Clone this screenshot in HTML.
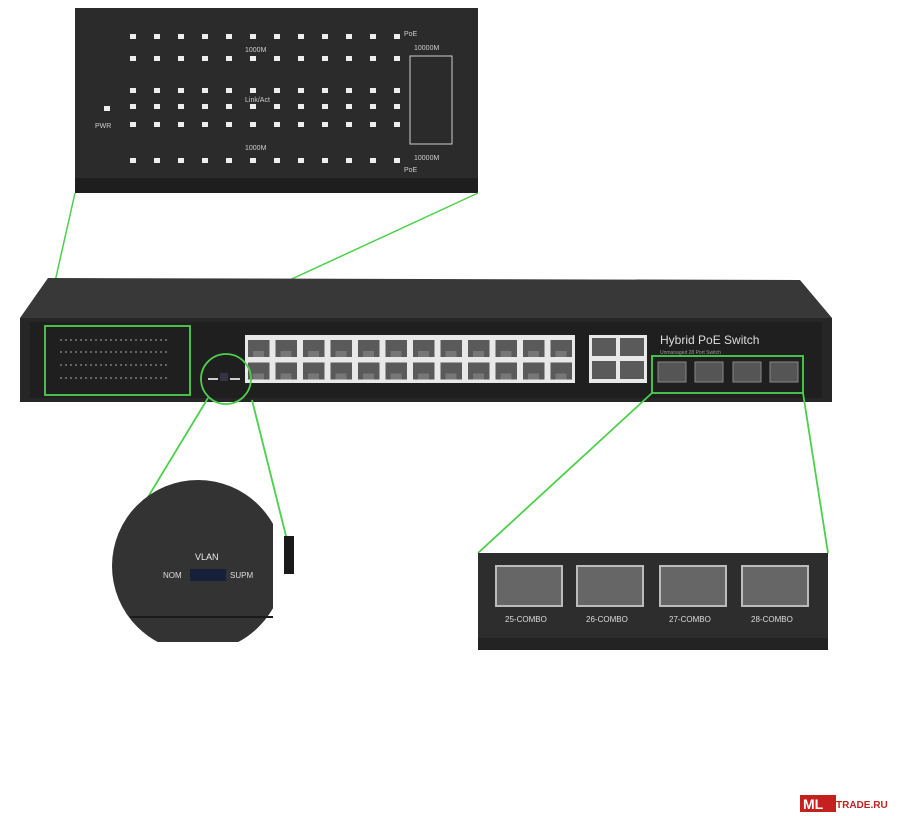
<!DOCTYPE html>
<html><head><style>body{margin:0;background:#fff}svg{display:block}</style></head><body>
<svg width="904" height="816" viewBox="0 0 904 816" xmlns="http://www.w3.org/2000/svg" font-family="Liberation Sans, sans-serif">
<defs>
<clipPath id="cc"><rect x="110" y="480" width="163" height="162"/></clipPath>
<pattern id="port" x="245" y="337" width="27.5" height="22.5" patternUnits="userSpaceOnUse">
<rect x="3" y="3" width="21.5" height="17" fill="#5a5a5a"/><rect x="8" y="14" width="11" height="6" fill="#777"/>
</pattern>
</defs>
<!-- top LED panel -->
<rect x="75" y="8" width="403" height="185" fill="#2b2b2b"/>
<rect x="75" y="178" width="403" height="15" fill="#1e1e1e"/>
<g fill="#eee">
<g id="r1">
<rect x="130" y="34" width="6" height="5"/><rect x="154" y="34" width="6" height="5"/><rect x="178" y="34" width="6" height="5"/><rect x="202" y="34" width="6" height="5"/><rect x="226" y="34" width="6" height="5"/><rect x="250" y="34" width="6" height="5"/><rect x="274" y="34" width="6" height="5"/><rect x="298" y="34" width="6" height="5"/><rect x="322" y="34" width="6" height="5"/><rect x="346" y="34" width="6" height="5"/><rect x="370" y="34" width="6" height="5"/><rect x="394" y="34" width="6" height="5"/>
</g>
<use href="#r1" y="22"/><use href="#r1" y="54"/><use href="#r1" y="70"/><use href="#r1" y="88"/><use href="#r1" y="124"/>
<rect x="104" y="106" width="6" height="5"/>
</g>
<g fill="#ccc" font-size="7">
<text x="245" y="52">1000M</text><text x="245" y="150">1000M</text><text x="245" y="102">Link/Act</text>
<text x="95" y="128">PWR</text><text x="404" y="36">PoE</text><text x="404" y="172">PoE</text>
<text x="414" y="50">10000M</text><text x="414" y="160">10000M</text>
</g>
<rect x="410" y="56" width="42" height="88" fill="none" stroke="#ccc" stroke-width="1"/>
<!-- green connectors top -->
<g stroke="#4cd04c" stroke-width="1.5" fill="none">
<line x1="75" y1="193" x2="45" y2="326"/><line x1="478" y1="193" x2="190" y2="326"/>
</g>
<!-- switch body -->
<polygon points="48,278 800,280 832,318 20,318" fill="#383838"/>
<rect x="20" y="318" width="812" height="84" fill="#262626"/>
<rect x="30" y="322" width="792" height="76" fill="#1f1f1f"/>
<!-- LED area small -->
<g stroke="#aaa" stroke-width="1">
<line x1="60" y1="340" x2="170" y2="340" stroke-dasharray="2,3"/><line x1="60" y1="352" x2="170" y2="352" stroke-dasharray="2,3"/>
<line x1="60" y1="365" x2="170" y2="365" stroke-dasharray="2,3"/><line x1="60" y1="378" x2="170" y2="378" stroke-dasharray="2,3"/>
</g>
<!-- ports -->
<rect x="245" y="335" width="330" height="48" fill="#e8e8e8"/>
<rect x="245" y="337" width="330" height="45" fill="url(#port)"/>
<rect x="589" y="335" width="58" height="48" fill="#e8e8e8"/>
<rect x="592" y="338" width="24" height="18" fill="#5a5a5a"/><rect x="620" y="338" width="24" height="18" fill="#5a5a5a"/>
<rect x="592" y="361" width="24" height="18" fill="#5a5a5a"/><rect x="620" y="361" width="24" height="18" fill="#5a5a5a"/>
<text x="660" y="344" fill="#ddd" font-size="12">Hybrid PoE Switch</text>
<text x="660" y="354" fill="#999" font-size="5">Unmanaged 28 Port Switch</text>
<g fill="#555" stroke="#888"><rect x="658" y="362" width="28" height="20"/><rect x="695" y="362" width="28" height="20"/><rect x="733" y="362" width="28" height="20"/><rect x="770" y="362" width="28" height="20"/></g>
<rect x="208" y="378" width="10" height="2" fill="#ccc"/><rect x="230" y="378" width="10" height="2" fill="#ccc"/><rect x="220" y="373" width="8" height="8" fill="#334"/>
<g stroke="#4cd04c" stroke-width="1.8" fill="none">
<rect x="45" y="326" width="145" height="69"/>
<rect x="652" y="356" width="151" height="37"/>
<circle cx="226" cy="379" r="25"/>
<line x1="652" y1="393" x2="478" y2="553"/><line x1="803" y1="393" x2="828" y2="553"/>
<line x1="208" y1="398" x2="128" y2="530"/><line x1="252" y1="400" x2="287" y2="540"/>
</g>
<!-- bottom-left circle zoom -->
<g clip-path="url(#cc)"><circle cx="198" cy="566" r="86" fill="#333"/></g>
<rect x="130" y="616" width="143" height="2" fill="#1a1a1a"/>
<rect x="284" y="536" width="10" height="38" fill="#1a1a1a"/>
<text x="195" y="560" fill="#eee" font-size="9">VLAN</text>
<text x="163" y="578" fill="#ddd" font-size="8">NOM</text>
<rect x="190" y="569" width="36" height="12" fill="#16203a"/>
<text x="230" y="578" fill="#ddd" font-size="8">SUPM</text>
<!-- SFP panel -->
<rect x="478" y="553" width="350" height="97" fill="#2d2d2d"/>
<rect x="478" y="638" width="350" height="12" fill="#232323"/>
<g fill="#666" stroke="#bbb" stroke-width="2">
<rect x="496" y="566" width="66" height="40"/><rect x="577" y="566" width="66" height="40"/><rect x="660" y="566" width="66" height="40"/><rect x="742" y="566" width="66" height="40"/>
</g>
<g fill="#ddd" font-size="8">
<text x="505" y="622">25-COMBO</text><text x="586" y="622">26-COMBO</text><text x="669" y="622">27-COMBO</text><text x="751" y="622">28-COMBO</text>
</g>
<!-- logo -->
<rect x="800" y="795" width="36" height="17" fill="#c42020"/>
<text x="803" y="809" fill="#fff" font-size="14" font-weight="bold">ML</text>
<text x="836" y="808" fill="#c42020" font-size="10" font-weight="bold">TRADE.RU</text>
</svg>
</body></html>
